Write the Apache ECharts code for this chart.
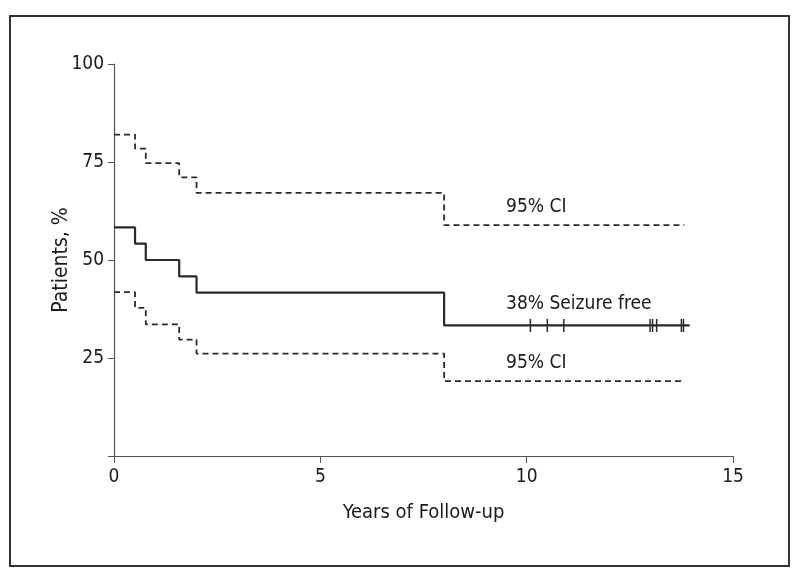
<!DOCTYPE html>
<html><head><meta charset="utf-8">
<script src="https://cdn.jsdelivr.net/npm/echarts@6/dist/echarts.min.js"></script>
<style>html,body{margin:0;padding:0;background:#fff}#c{width:800px;height:577px}</style>
</head><body><div id="c"></div>
<script>
const FONT = "'Liberation Sans Narrow','DejaVu Sans Condensed','Roboto',sans-serif";
const times = [0, 0.51, 0.77, 1.58, 2.0, 8.0, 13.95];
const survival = [58.3, 54.2, 50.0, 45.8, 41.7, 33.3, 33.3];
const ciTimes = [0, 0.51, 0.77, 1.58, 2.0, 8.0, 13.82];
const upperCI = [82.0, 78.4, 74.7, 71.1, 67.1, 58.9, 58.9];
const lowerCI = [41.8, 37.8, 33.6, 29.7, 26.1, 19.1, 19.1];
const censorTimes = [10.09, 10.50, 10.90, 12.99, 13.05, 13.15, 13.75, 13.80];
const censorValue = 33.3;
const yTicks = [25, 50, 75, 100];
const xTicks = [0, 5, 10, 15];
const labels = [
  {text: '95% CI', x: 9.5, y: 63.6},
  {text: '38% Seizure free', x: 9.5, y: 38.8},
  {text: '95% CI', x: 9.5, y: 23.8}
];

const zip = (xs, ys) => xs.map((x, i) => [x, ys[i]]);
const chart = echarts.init(document.getElementById('c'), null, {renderer: 'canvas'});
const txtColor = '#1a1a1a';
const labelStyle = {fontFamily: FONT, fontSize: 19, color: txtColor};
chart.setOption({
  animation: false,
  backgroundColor: '#fff',
  grid: {left: 114, right: 67, top: 64, bottom: 121, containLabel: false},
  xAxis: {
    type: 'value', min: 0, max: 15, interval: 5,
    name: 'Years of Follow-up', nameLocation: 'middle', nameGap: 47, nameMoveOverlap: false,
    nameTextStyle: {fontFamily: FONT, fontSize: 20, color: txtColor},
    axisLine: {show: true, lineStyle: {color: '#555', width: 1.2}},
    axisTick: {show: true, length: 7, lineStyle: {color: '#555'}},
    axisLabel: {fontFamily: FONT, fontSize: 19, color: txtColor, margin: 12,
      formatter: v => xTicks.includes(v) ? String(v) : ''},
    splitLine: {show: false}
  },
  yAxis: {
    type: 'value', min: 0, max: 100, interval: 25,
    name: 'Patients, %', nameLocation: 'middle', nameGap: 42, nameRotate: 90, nameMoveOverlap: false,
    nameTextStyle: {fontFamily: FONT, fontSize: 21, color: txtColor},
    axisLine: {show: true, lineStyle: {color: '#555', width: 1.2}},
    axisTick: {show: true, length: 6, lineStyle: {color: '#555'}},
    axisLabel: {fontFamily: FONT, fontSize: 19, color: txtColor, margin: 10,
      formatter: v => yTicks.includes(v) ? String(v) : ''},
    splitLine: {show: false}
  },
  graphic: [{
    type: 'rect', shape: {x: 10, y: 16, width: 779, height: 550},
    style: {fill: 'none', stroke: '#333', lineWidth: 2}, silent: true, z: -1
  }],
  series: [
    {
      type: 'line', step: 'end', symbol: 'none', data: zip(ciTimes, upperCI),
      lineStyle: {color: '#2a2a2a', width: 1.8, type: [6, 4]}
    },
    {
      type: 'line', step: 'end', symbol: 'none', data: zip(ciTimes, lowerCI),
      lineStyle: {color: '#2a2a2a', width: 1.8, type: [6, 4]}
    },
    {
      type: 'line', step: 'end', symbol: 'none', data: zip(times, survival),
      lineStyle: {color: '#2a2a2a', width: 2.2}
    },
    {
      type: 'scatter', symbol: 'rect', symbolSize: [1.5, 13],
      itemStyle: {color: '#2a2a2a', opacity: 1},
      data: censorTimes.map(t => [t, censorValue])
    },
    {
      type: 'scatter', symbolSize: 0, silent: true,
      itemStyle: {opacity: 1},
      data: labels.map(l => ({value: [l.x, l.y],
        label: Object.assign({show: true, formatter: l.text, position: 'right', distance: 0, opacity: 1}, labelStyle)}))
    }
  ]
});
</script></body></html>
